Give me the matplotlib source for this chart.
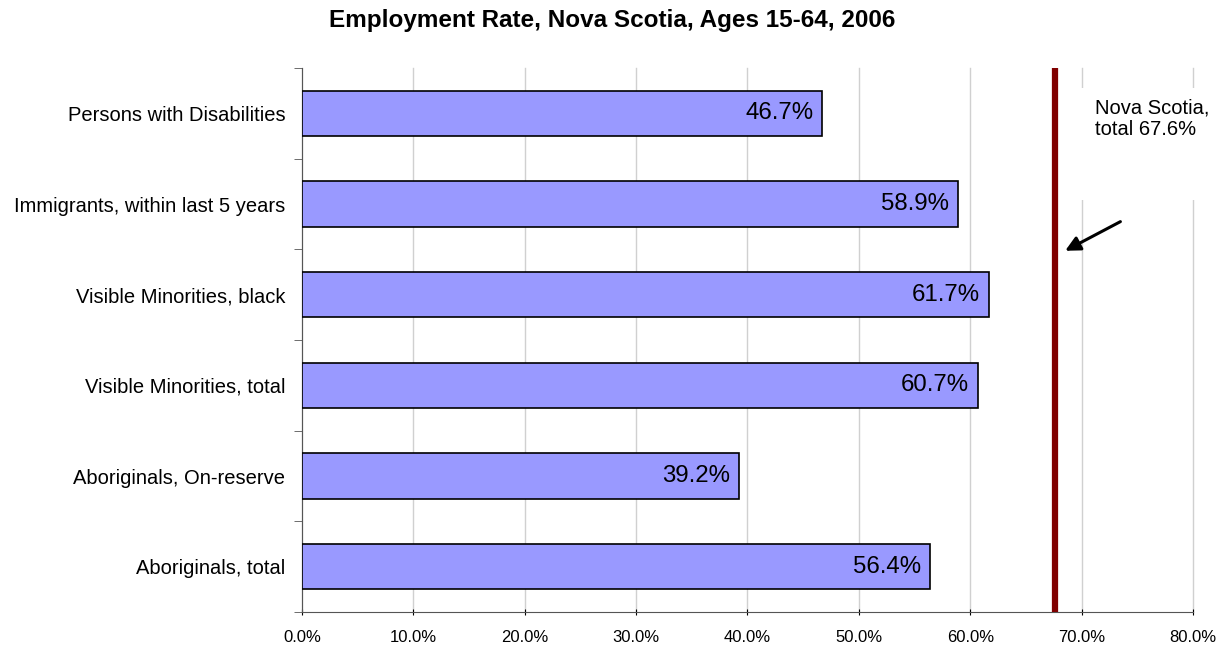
import matplotlib
matplotlib.use('Agg')
import matplotlib.pyplot as plt
from matplotlib.patches import Rectangle
from matplotlib.ticker import FuncFormatter, MultipleLocator

plt.rcParams['font.family'] = ['Liberation Sans', 'DejaVu Sans']

# categories listed bottom to top
categories = ['Aboriginals, total', 'Aboriginals, On-reserve', 'Visible Minorities, total',
              'Visible Minorities, black', 'Immigrants, within last 5 years',
              'Persons with Disabilities']
rates = [56.4, 39.2, 60.7, 61.7, 58.9, 46.7]
ns_total = 67.6

fig = plt.figure(figsize=(12.24, 6.51), dpi=100)
ax = fig.add_axes([0.2467, 0.0599, 0.7280, 0.8356])
ax.set_axisbelow(True)

ypos = list(range(len(categories)))
ax.barh(ypos, rates, height=0.5, color='#9999ff', edgecolor='black', linewidth=1.2, zorder=3)

for y, v in zip(ypos, rates):
    ax.text(v - 0.8, y, f'{v:.1f}%', ha='right', va='center', fontsize=17.3, zorder=4)

ax.axvline(ns_total, color='#800000', linewidth=4.5, zorder=5)

ax.set_xlim(0, 80)
ax.set_ylim(-0.5, len(categories) - 0.5)
ax.xaxis.set_major_locator(MultipleLocator(10))
ax.xaxis.set_major_formatter(FuncFormatter(lambda x, p: f'{x:.1f}%'))
ax.grid(axis='x', color='#d0d0d0', linewidth=1)
for gl in ax.get_xgridlines():
    gl.set_clip_on(False)

ax.set_yticks(ypos)
ax.set_yticklabels(categories, fontsize=14.5)
ax.set_yticks([y - 0.5 for y in ypos] + [len(categories) - 0.5], minor=True)
ax.tick_params(axis='y', which='major', length=0, pad=12)
ax.tick_params(axis='y', which='minor', length=6, direction='out', color='#555555')
ax.tick_params(axis='x', length=4, direction='inout', labelsize=12, pad=11)

for s in ['top', 'right']:
    ax.spines[s].set_visible(False)
ax.spines['left'].set_color('#555555')
ax.spines['bottom'].set_color('#555555')

# white box behind the note hides the gridlines
ax.add_patch(Rectangle((68.5, 4.04), 13, 1.24, facecolor='white', edgecolor='none',
                       zorder=1, clip_on=False))
ax.text(71.2, 4.94, 'Nova Scotia,\ntotal 67.6%', fontsize=14.5, va='center', ha='left',
        linespacing=1.15, zorder=6)
ax.annotate('', xy=(68.3, 3.47), xytext=(73.7, 3.82),
            arrowprops=dict(arrowstyle='-|>', color='black', lw=2.2, mutation_scale=22), zorder=7)

fig.text(0.5, 0.969, 'Employment Rate, Nova Scotia, Ages 15-64, 2006', fontsize=17.5,
         fontweight='bold', ha='center', va='center')

fig.savefig('out.png', dpi=100)
